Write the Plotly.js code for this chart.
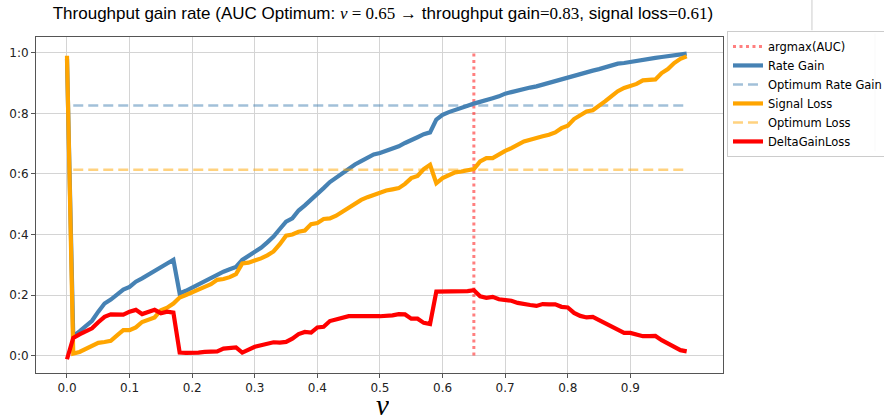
<!DOCTYPE html>
<html>
<head>
<meta charset="utf-8">
<script src="https://cdn.plot.ly/plotly-3.0.1.min.js"></script>
<style>html,body{margin:0;padding:0;background:#fff;}#chart{width:884px;height:418px;}</style>
</head>
<body>
<div id="chart"></div>
<script>
const nu = [0.00,0.01,0.02,0.03,0.04,0.05,0.06,0.07,0.08,0.09,
0.10,0.11,0.12,0.13,0.14,0.15,0.16,0.17,0.18,0.19,
0.20,0.21,0.22,0.23,0.24,0.25,0.26,0.27,0.28,0.29,
0.30,0.31,0.32,0.33,0.34,0.35,0.36,0.37,0.38,0.39,
0.40,0.41,0.42,0.43,0.44,0.45,0.46,0.47,0.48,0.49,
0.50,0.51,0.52,0.53,0.54,0.55,0.56,0.57,0.58,0.59,
0.60,0.61,0.62,0.63,0.64,0.65,0.66,0.67,0.68,0.69,
0.70,0.71,0.72,0.73,0.74,0.75,0.76,0.77,0.78,0.79,
0.80,0.81,0.82,0.83,0.84,0.85,0.86,0.87,0.88,0.89,
0.90,0.91,0.92,0.93,0.94,0.95,0.96,0.97,0.98,0.99];

const rateGain = [0.98,0.064,0.080,0.097,0.115,0.145,0.172,0.185,0.200,0.218,
0.227,0.244,0.255,0.268,0.282,0.293,0.304,0.316,0.205,0.214,
0.225,0.235,0.244,0.255,0.268,0.277,0.285,0.293,0.316,0.329,
0.343,0.356,0.374,0.393,0.418,0.442,0.453,0.479,0.496,0.514,
0.534,0.553,0.573,0.588,0.605,0.619,0.631,0.642,0.652,0.664,
0.669,0.676,0.685,0.691,0.702,0.713,0.721,0.731,0.737,0.779,
0.795,0.804,0.812,0.818,0.825,0.832,0.839,0.845,0.850,0.856,
0.865,0.870,0.876,0.881,0.885,0.889,0.895,0.900,0.908,0.913,
0.919,0.924,0.930,0.935,0.941,0.946,0.952,0.959,0.964,0.966,
0.970,0.974,0.977,0.980,0.983,0.986,0.988,0.992,0.994,0.997];

const signalLoss = [0.99,0.007,0.012,0.023,0.031,0.042,0.045,0.049,0.067,0.084,
0.084,0.093,0.111,0.119,0.126,0.150,0.158,0.172,0.192,0.200,
0.208,0.218,0.227,0.236,0.250,0.253,0.259,0.269,0.304,0.307,
0.313,0.321,0.331,0.344,0.368,0.396,0.400,0.409,0.413,0.434,
0.438,0.451,0.453,0.462,0.475,0.489,0.501,0.514,0.523,0.531,
0.538,0.545,0.549,0.553,0.567,0.586,0.593,0.616,0.630,0.569,
0.586,0.597,0.605,0.608,0.611,0.616,0.641,0.652,0.652,0.666,
0.676,0.685,0.696,0.707,0.713,0.720,0.724,0.729,0.737,0.751,
0.759,0.781,0.795,0.806,0.810,0.823,0.840,0.857,0.873,0.884,
0.889,0.897,0.909,0.912,0.912,0.933,0.946,0.966,0.980,0.988];

const deltaGainLoss = [-0.012,0.058,0.070,0.080,0.090,0.110,0.128,0.136,0.134,0.135,
0.145,0.151,0.137,0.145,0.151,0.140,0.145,0.142,0.010,0.009,
0.008,0.010,0.012,0.012,0.014,0.023,0.025,0.027,0.010,0.020,
0.029,0.034,0.040,0.044,0.043,0.045,0.056,0.071,0.078,0.076,
0.093,0.095,0.114,0.119,0.125,0.130,0.130,0.129,0.128,0.130,
0.130,0.130,0.133,0.137,0.136,0.122,0.122,0.108,0.104,0.211,
0.211,0.210,0.211,0.211,0.213,0.216,0.196,0.191,0.194,0.186,
0.185,0.181,0.174,0.169,0.167,0.164,0.170,0.169,0.169,0.161,
0.159,0.141,0.131,0.126,0.128,0.117,0.106,0.095,0.084,0.075,
0.075,0.071,0.064,0.064,0.065,0.051,0.040,0.026,0.018,0.014];

const optNu = 0.65;
const optGain = 0.826;
const optLoss = 0.614;
const optSpan = [0.01, 0.99];
const argmaxY = [0, 1];

const xTickVals = [0,0.1,0.2,0.3,0.4,0.5,0.6,0.7,0.8,0.9];
const xTickText = ["0.0","0.1","0.2","0.3","0.4","0.5","0.6","0.7","0.8","0.9"];
const yTickVals = [0,0.2,0.4,0.6,0.8,1.0];
const yTickText = ["0:0","0:2","0:4","0:6","0:8","1:0"];

const traces = [
  {x:[optNu,optNu], y:argmaxY, mode:'lines', name:'argmax(AUC)',
   line:{color:'rgba(255,0,0,0.5)', width:3, dash:'3px,3.5px'}},
  {x:nu, y:rateGain, mode:'lines', name:'Rate Gain',
   line:{color:'#4682b4', width:4.2}},
  {x:optSpan, y:[optGain,optGain], mode:'lines', name:'Optimum Rate Gain',
   line:{color:'rgba(70,130,180,0.5)', width:2.5, dash:'10px,5px'}},
  {x:nu, y:signalLoss, mode:'lines', name:'Signal Loss',
   line:{color:'#ffa500', width:4.2}},
  {x:optSpan, y:[optLoss,optLoss], mode:'lines', name:'Optimum Loss',
   line:{color:'rgba(255,165,0,0.5)', width:2.5, dash:'10px,5px'}},
  {x:nu, y:deltaGainLoss, mode:'lines', name:'DeltaGainLoss',
   line:{color:'#ff0000', width:4.2}}
];

const serif = 'font-family:Liberation Serif';
const layout = {
  width:884, height:418,
  margin:{l:36, r:161, t:37, b:45, autoexpand:false},
  paper_bgcolor:'#ffffff', plot_bgcolor:'#ffffff',
  showlegend:true,
  title:{
    text:'Throughput gain rate (AUC Optimum: <span style="'+serif+'"><i>ν</i> = 0.65</span> → throughput gain<span style="'+serif+'">=0.83</span>, signal loss<span style="'+serif+'">=0.61</span>)',
    font:{family:'Liberation Sans', size:17, color:'#000'},
    xref:'paper', x:0.505, xanchor:'center',
    yref:'container', y:0.968, yanchor:'middle'
  },
  xaxis:{
    range:[-0.0495, 1.048], tickvals:xTickVals, ticktext:xTickText,
    showgrid:true, gridcolor:'#d4d4d4', gridwidth:1, zeroline:false,
    showline:true, mirror:true, linecolor:'#555555', linewidth:1,
    ticks:'outside', ticklen:4, tickcolor:'#555555',
    tickfont:{family:'DejaVu Sans', size:12, color:'#222'}
  },
  yaxis:{
    range:[-0.0575, 1.052], tickvals:yTickVals, ticktext:yTickText,
    showgrid:true, gridcolor:'#d4d4d4', gridwidth:1, zeroline:false,
    showline:true, mirror:true, linecolor:'#555555', linewidth:1,
    ticks:'outside', ticklen:4, tickcolor:'#555555',
    tickfont:{family:'DejaVu Sans', size:12, color:'#222'}
  },
  annotations:[
    {text:'<i>ν</i>', xref:'paper', yref:'paper', x:0.505, y:-0.0955,
     xanchor:'center', yanchor:'middle', showarrow:false, borderpad:0,
     height:24, valign:'middle',
     font:{family:'Liberation Serif', size:29, color:'#000'}}
  ],
  legend:{
    x:1.0058, y:1.018, xanchor:'left', yanchor:'top',
    bgcolor:'rgba(255,255,255,0.8)', bordercolor:'#cccccc', borderwidth:1,
    font:{family:'DejaVu Sans', size:11.5, color:'#000'},
    tracegroupgap:0, itemwidth:30
  },
  shapes:[
    {type:'line', xref:'paper', yref:'paper', x0:1.1295, x1:1.1295, y0:1.02, y1:1.12,
     line:{color:'#cccccc', width:1}},
    {type:'line', xref:'paper', yref:'paper', x0:1.2213, x1:1.2213, y0:0.66, y1:1.01,
     line:{color:'#dddddd', width:1}}
  ]
};

Plotly.newPlot('chart', traces, layout, {displayModeBar:false, staticPlot:true});
</script>
</body>
</html>
